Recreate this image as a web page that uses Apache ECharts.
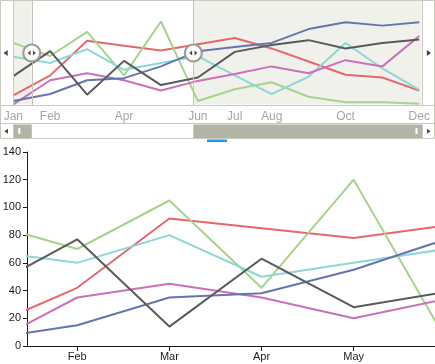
<!DOCTYPE html>
<html><head><meta charset="utf-8">
<script src="https://cdn.jsdelivr.net/npm/echarts@6/dist/echarts.min.js"></script>
<style>html,body{margin:0;padding:0;background:#fff}#c{width:435px;height:364px}</style>
</head><body><div id="c"></div>
<script>
// ---- data ----
const months = ['Jan','Feb','Mar','Apr','May','Jun','Jul','Aug','Sep','Oct','Nov','Dec'];
const overviewLabelMonths = [0, 1, 3, 5, 6, 7, 9, 11];
const mainTickMonths = [1, 2, 3, 4];
const redValues    = [13, 42, 92, 85, 78, 87, 96, 81, 62, 43, 39, 20];
const greenValues  = [89, 70, 105, 42, 120, 5, 22, 32, 11, 3, 3, 1];
const cyanValues   = [69, 60, 80, 50, 60, 70, 42, 15, 40, 89, 52, 21];
const purpleValues = [0, 35, 45, 35, 20, 34, 44, 55, 45, 64, 55, 99];
const blueValues   = [5, 15, 35, 38, 55, 77, 83, 89, 109, 119, 114, 119];
const greyValues   = [41, 77, 14, 63, 28, 39, 76, 86, 93, 81, 89, 94];
const mainWindow = [0.455, 4.883];
const overviewWindow = [0.5, 4.878];

const seriesList = [
  {name: 'Series 1', values: redValues,    color: '#e5686b'},
  {name: 'Series 2', values: greenValues,  color: '#a6d38e'},
  {name: 'Series 3', values: cyanValues,   color: '#8dd8d6'},
  {name: 'Series 4', values: purpleValues, color: '#cc6fbd'},
  {name: 'Series 5', values: blueValues,   color: '#6874ad'},
  {name: 'Series 6', values: greyValues,   color: '#5a5a5a'}
];

const chart = echarts.init(document.getElementById('c'), null, {renderer: 'canvas'});
const pairs = arr => arr.map((v, i) => [i, v]);
const isInt = v => Math.abs(v - Math.round(v)) < 1e-6;
const axisColor = '#1a1a1a';
const frameColor = '#c9c9bd';

const series = [];
seriesList.forEach((s, k) => {
  series.push({
    type: 'line', name: s.name, xAxisIndex: 0, yAxisIndex: 0,
    data: pairs(s.values), symbol: 'none', clip: true,
    lineStyle: {color: s.color, width: 2}, itemStyle: {color: s.color}
  });
});
seriesList.forEach((s, k) => {
  const o = {
    type: 'line', name: s.name + ' overview', xAxisIndex: 1, yAxisIndex: 1,
    data: pairs(s.values), symbol: 'none', silent: true,
    lineStyle: {color: s.color, width: 2}, itemStyle: {color: s.color}
  };
  if (k === 0) {
    o.markArea = {
      silent: true, itemStyle: {color: '#f1f1ec'},
      data: [[{xAxis: 0}, {xAxis: overviewWindow[0]}], [{xAxis: overviewWindow[1]}, {xAxis: 11.06}]]
    };
  }
  series.push(o);
});

chart.setOption({
  animation: false,
  backgroundColor: '#ffffff',
  grid: [
    {left: 27, right: 0, top: 152, bottom: 18, outerBoundsMode: 'none', containLabel: false},
    {left: 13.3, right: 13.5, top: 0.75, bottom: 259.6, outerBoundsMode: 'none', containLabel: false}
  ],
  xAxis: [
    {
      type: 'value', gridIndex: 0, min: mainWindow[0], max: mainWindow[1],
      minInterval: 1, maxInterval: 1,
      axisLine: {show: true, lineStyle: {color: axisColor, width: 1}},
      axisTick: {show: true, customValues: mainTickMonths, length: 5, lineStyle: {color: axisColor}},
      axisLabel: {customValues: mainTickMonths, margin: 5, fontSize: 11, color: axisColor,
        fontFamily: 'Liberation Sans, Arial, sans-serif',
        formatter: v => isInt(v) ? months[Math.round(v)] : ''},
      splitLine: {show: false}
    },
    {
      type: 'value', gridIndex: 1, min: 0, max: 11.06, interval: 1,
      axisLine: {show: false}, axisTick: {show: false},
      axisLabel: {customValues: overviewLabelMonths, margin: 6, fontSize: 12, color: '#a6a6a6',
        fontFamily: 'Liberation Sans, Arial, sans-serif',
        formatter: v => (isInt(v) && overviewLabelMonths.indexOf(Math.round(v)) >= 0) ? months[Math.round(v)] : ''},
      splitLine: {show: false}
    }
  ],
  yAxis: [
    {
      type: 'value', gridIndex: 0, min: 0, max: 140, interval: 20,
      axisLine: {show: true, lineStyle: {color: axisColor, width: 1}},
      axisTick: {show: true, length: 4, lineStyle: {color: axisColor}},
      axisLabel: {margin: 6, fontSize: 11, color: axisColor, fontFamily: 'Liberation Sans, Arial, sans-serif'},
      splitLine: {show: false}
    },
    {type: 'value', gridIndex: 1, min: 0, max: 150, show: false, splitLine: {show: false}}
  ],
  series: series
});

// ---- decorations positioned via the overview scale ----
const px = x => chart.convertToPixel({gridIndex: 1}, [x, 0])[0];
const boxLeft = px(0), boxRight = px(11.06);
const selL = px(overviewWindow[0]), selR = px(overviewWindow[1]);
const boxBottom = 105, handleY = 53;
const sbTop = 124.5, sbBottom = 138;
const g = [];
g.push({type: 'rect', silent: true, shape: {x: 0.5, y: 0.5, width: 434, height: 138}, style: {fill: null, stroke: frameColor, lineWidth: 1}, z: 10});
g.push({type: 'line', silent: true, shape: {x1: Math.round(boxLeft) + 0.5, y1: 0, x2: Math.round(boxLeft) + 0.5, y2: boxBottom}, style: {stroke: frameColor, lineWidth: 1}, z: 10});
g.push({type: 'line', silent: true, shape: {x1: Math.round(boxRight) + 0.5, y1: 0, x2: Math.round(boxRight) + 0.5, y2: boxBottom}, style: {stroke: frameColor, lineWidth: 1}, z: 10});
g.push({type: 'line', silent: true, shape: {x1: 0, y1: boxBottom + 0.5, x2: 435, y2: boxBottom + 0.5}, style: {stroke: frameColor, lineWidth: 1}, z: 10});
g.push({type: 'line', silent: true, shape: {x1: 0, y1: sbTop - 1, x2: 435, y2: sbTop - 1}, style: {stroke: frameColor, lineWidth: 1}, z: 10});
[selL, selR].forEach(x => {
  g.push({type: 'line', silent: true, shape: {x1: Math.round(x) + 0.5, y1: 0, x2: Math.round(x) + 0.5, y2: boxBottom}, style: {stroke: '#c3c3b8', lineWidth: 1}, z: 11});
});
const tri = (cx, cy, dir, s, color) => ({type: 'polygon', silent: true, z: 12,
  shape: {points: [[cx + dir * s, cy], [cx - dir * s * 0.4, cy - s], [cx - dir * s * 0.4, cy + s]]}, style: {fill: color}});
g.push(tri(6.5, handleY, -1, 3, '#444'));
g.push(tri(428, handleY, 1, 3, '#444'));
[selL, selR].forEach(x => {
  g.push({type: 'circle', silent: true, z: 13, shape: {cx: x, cy: handleY, r: 8.5}, style: {fill: '#ffffff', stroke: '#9d9d95', lineWidth: 2.2}});
  g.push({type: 'polygon', silent: true, z: 14, shape: {points: [[x - 4, handleY], [x - 1.2, handleY - 2.5], [x - 1.2, handleY + 2.5]]}, style: {fill: '#444'}});
  g.push({type: 'polygon', silent: true, z: 14, shape: {points: [[x + 4, handleY], [x + 1.2, handleY - 2.5], [x + 1.2, handleY + 2.5]]}, style: {fill: '#444'}});
});
g.push({type: 'rect', silent: true, z: 10, shape: {x: boxLeft, y: sbTop, width: selL - boxLeft, height: sbBottom - sbTop}, style: {fill: '#b3b4a5'}});
g.push({type: 'rect', silent: true, z: 10, shape: {x: selR, y: sbTop, width: boxRight + 0.5 - selR, height: sbBottom - sbTop}, style: {fill: '#b3b4a5'}});
g.push({type: 'rect', silent: true, z: 11, shape: {x: boxLeft + 5, y: sbTop + 3.5, width: 2, height: 6}, style: {fill: '#ffffff'}});
g.push({type: 'rect', silent: true, z: 11, shape: {x: boxRight - 6, y: sbTop + 3.5, width: 2, height: 6}, style: {fill: '#ffffff'}});
g.push({type: 'line', silent: true, shape: {x1: Math.round(boxLeft) + 0.5, y1: sbTop, x2: Math.round(boxLeft) + 0.5, y2: sbBottom}, style: {stroke: frameColor, lineWidth: 1}, z: 10});
g.push({type: 'line', silent: true, shape: {x1: Math.round(boxRight) + 0.5, y1: sbTop, x2: Math.round(boxRight) + 0.5, y2: sbBottom}, style: {stroke: frameColor, lineWidth: 1}, z: 10});
g.push(tri(7, (sbTop + sbBottom) / 2, -1, 2.5, '#444'));
g.push(tri(428, (sbTop + sbBottom) / 2, 1, 2.5, '#444'));
g.push({type: 'rect', silent: true, z: 10, shape: {x: 207, y: 139.5, width: 20, height: 2.5}, style: {fill: '#1e9ae0'}});

chart.setOption({graphic: g});
</script>
</body></html>
